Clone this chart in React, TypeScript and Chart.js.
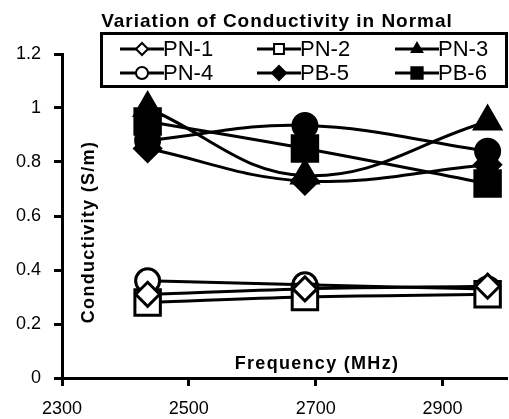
import React, { useEffect, useRef } from "react";
import { Chart, registerables } from "chart.js";
import { drawPoint } from "chart.js/helpers";

Chart.register(...registerables);

// ---- data ----
const frequencies = [2435, 2683, 2971];
const pn1 = [0.31, 0.33, 0.34];
const pn2 = [0.28, 0.3, 0.31];
const pn3 = [1.0, 0.75, 0.95];
const pn4 = [0.36, 0.345, 0.33];
const pb5 = [0.85, 0.73, 0.79];
const pb6 = [0.95, 0.85, 0.72];
const extraSeries = [0.88, 0.935, 0.84];

const xTicks = [2300, 2500, 2700, 2900];
const yTicks = [0, 0.2, 0.4, 0.6, 0.8, 1.0, 1.2];
const legendLabels = ["PN-1", "PN-2", "PN-3", "PN-4", "PB-5", "PB-6"];

const chartTitle = "Variation of Conductivity in Normal";
const xTitle = "Frequency (MHz)";
const yTitle = "Conductivity (S/m)";

const FONT = '"Liberation Sans", Arial, sans-serif';

type Style = { pointStyle: string; filled: boolean; radius: number; legendRadius: number };

const styles: Style[] = [
  { pointStyle: "rectRot", filled: false, radius: 12, legendRadius: 6 }, // PN-1
  { pointStyle: "rect", filled: false, radius: 18, legendRadius: 7 }, // PN-2
  { pointStyle: "triangle", filled: true, radius: 15, legendRadius: 6 }, // PN-3
  { pointStyle: "circle", filled: false, radius: 12, legendRadius: 6 }, // PN-4
  { pointStyle: "rectRot", filled: true, radius: 13, legendRadius: 7 }, // PB-5
  { pointStyle: "rect", filled: true, radius: 18, legendRadius: 8 }, // PB-6
];

const seriesValues = [pn1, pn2, pn3, pn4, pb5, pb6];

const overlayPlugin = {
  id: "overlay",
  afterDraw(chart: any) {
    const ctx = chart.ctx as any;
    ctx.save();
    ctx.fillStyle = "#000";
    ctx.strokeStyle = "#000";

    // title
    ctx.font = `bold 19px ${FONT}`;
    ctx.letterSpacing = "1px";
    ctx.textAlign = "center";
    ctx.textBaseline = "alphabetic";
    ctx.fillText(chartTitle, 277, 27);

    // x title inside plot
    ctx.font = `bold 18px ${FONT}`;
    ctx.letterSpacing = "1.3px";
    ctx.fillText(xTitle, 317, 369);

    // y title inside plot
    ctx.save();
    ctx.translate(89, 232);
    ctx.rotate(-Math.PI / 2);
    ctx.textBaseline = "middle";
    ctx.fillText(yTitle, 0, 0);
    ctx.restore();
    ctx.letterSpacing = "0px";

    // legend box
    ctx.fillStyle = "#fff";
    ctx.fillRect(101, 33, 406, 54);
    ctx.lineWidth = 3;
    ctx.strokeStyle = "#000";
    ctx.strokeRect(101.5, 33.5, 405, 53);

    const colLine = [120, 257, 395];
    const rowY = [49, 73];
    ctx.font = `22px ${FONT}`;
    ctx.textAlign = "left";
    ctx.textBaseline = "middle";
    legendLabels.forEach((label, i) => {
      const c = i % 3;
      const r = Math.floor(i / 3);
      const x0 = colLine[c];
      const y = rowY[r];
      ctx.lineWidth = 3;
      ctx.strokeStyle = "#000";
      ctx.beginPath();
      ctx.moveTo(x0, y);
      ctx.lineTo(x0 + 44, y);
      ctx.stroke();
      const st = styles[i];
      ctx.fillStyle = st.filled ? "#000" : "#fff";
      ctx.lineWidth = 2;
      drawPoint(ctx, { pointStyle: st.pointStyle as any, radius: st.legendRadius, rotation: 0, borderWidth: 2 }, x0 + 22, y);
      ctx.fillStyle = "#000";
      ctx.fillText(label, x0 + 43, y + 1);
    });
    ctx.restore();
  },
};

export default function App() {
  const ref = useRef<HTMLCanvasElement | null>(null);

  useEffect(() => {
    document.body.style.margin = "0";
    const canvas = ref.current;
    if (!canvas) return;

    const datasets: any[] = seriesValues.map((vals, i) => {
      const st = styles[i];
      return {
        label: legendLabels[i],
        data: frequencies.map((f, k) => ({ x: f, y: vals[k] })),
        borderColor: "#000",
        borderWidth: 3,
        tension: 0.4,
        pointStyle: st.pointStyle,
        pointRadius: st.radius,
        pointBorderWidth: 3,
        pointBorderColor: "#000",
        pointBackgroundColor: st.filled ? "#000" : "#fff",
        showLine: true,
        fill: false,
      };
    });
    datasets.push({
      label: "",
      data: frequencies.map((f, k) => ({ x: f, y: extraSeries[k] })),
      borderColor: "#000",
      borderWidth: 3,
      tension: 0.4,
      pointStyle: "circle",
      pointRadius: 12,
      pointBorderWidth: 3,
      pointBorderColor: "#000",
      pointBackgroundColor: "#000",
      showLine: true,
      fill: false,
    });

    const chart = new Chart(canvas, {
      type: "scatter",
      data: { datasets },
      options: {
        responsive: false,
        animation: false,
        devicePixelRatio: 1,
        layout: { autoPadding: false, padding: { top: 54, right: 3, left: 0, bottom: 0 } },
        plugins: {
          legend: { display: false },
          title: { display: false },
          tooltip: { enabled: false },
        },
        scales: {
          x: {
            type: "linear",
            min: 2300,
            max: 3000,
            afterBuildTicks: (scale: any) => {
              scale.ticks = xTicks.map((v) => ({ value: v }));
            },
            afterFit: (scale: any) => {
              scale.height = 41;
              scale.paddingLeft = 0;
              scale.paddingRight = 0;
            },
            border: { display: true, color: "#000", width: 3 },
            grid: { drawOnChartArea: false, drawTicks: true, tickLength: 8, color: "#000", lineWidth: 3 },
            ticks: {
              color: "#000",
              font: { family: FONT, size: 18 },
              padding: 12,
              maxRotation: 0,
              autoSkip: false,
              callback: (v: any) => String(v),
            },
          },
          y: {
            type: "linear",
            min: 0,
            max: 1.2,
            afterBuildTicks: (scale: any) => {
              scale.ticks = yTicks.map((v) => ({ value: v }));
            },
            afterFit: (scale: any) => {
              scale.width = 62;
            },
            border: { display: true, color: "#000", width: 3 },
            grid: { drawOnChartArea: false, drawTicks: true, tickLength: 8, color: "#000", lineWidth: 3 },
            ticks: {
              color: "#000",
              font: { family: FONT, size: 18 },
              padding: 13,
              autoSkip: false,
              callback: (v: any) => (v === 0 ? "0" : Number(v).toFixed(1).replace(/\.0$/, "")),
            },
          },
        },
      },
      plugins: [overlayPlugin],
    });

    return () => chart.destroy();
  }, []);

  return <canvas ref={ref} width={509} height={419} style={{ display: "block" }} />;
}
